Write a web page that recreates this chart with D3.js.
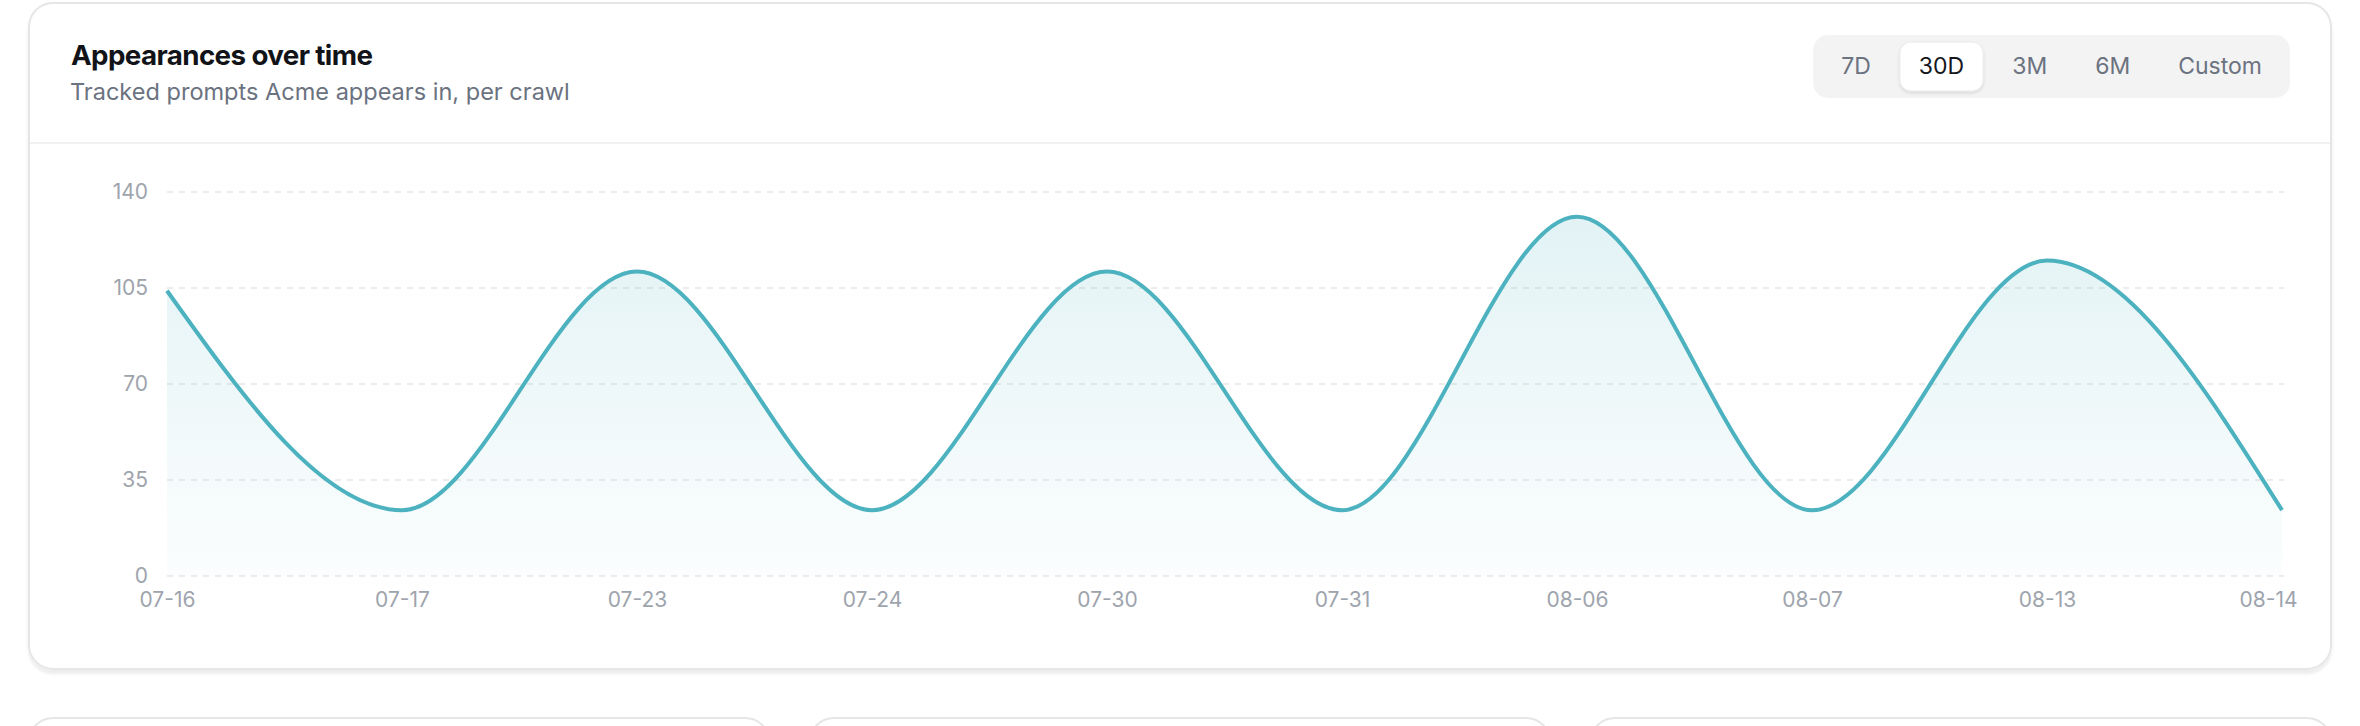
<!DOCTYPE html>
<html>
<head>
<meta charset="utf-8">
<script src="https://cdn.jsdelivr.net/npm/d3@7"></script>
<style>
  html, body { margin: 0; padding: 0; background: #fff; overflow: hidden; }
  svg { display: block; font-family: Inter, "Noto Sans", sans-serif; }
</style>
</head>
<body>
<svg id="chart" width="2360" height="726"></svg>
<script>
"use strict";
// crawl dates (x categories) and tracked prompt appearances
var dates = ["07-16", "07-17", "07-23", "07-24", "07-30", "07-31", "08-06", "08-07", "08-13", "08-14"];
var appearances = [104, 24, 111, 24, 111, 24, 131, 24, 115, 24];
var yTicks = [0, 35, 70, 105, 140];
var ranges = ["7D", "30D", "3M", "6M", "Custom"];
var activeRange = "30D";

var lineColor = "#4cb2bf";
var svg = d3.select("#chart");
var defs = svg.append("defs");

var cardShadow = defs.append("filter").attr("id", "cardShadow")
    .attr("x", "-2%").attr("y", "-2%").attr("width", "104%").attr("height", "106%");
cardShadow.append("feDropShadow").attr("dx", 0).attr("dy", 4).attr("stdDeviation", 1.5)
    .attr("flood-color", "#000").attr("flood-opacity", 0.07);

var btnShadow = defs.append("filter").attr("id", "btnShadow")
    .attr("x", "-20%").attr("y", "-20%").attr("width", "140%").attr("height", "150%");
btnShadow.append("feDropShadow").attr("dx", 0).attr("dy", 2).attr("stdDeviation", 1.5)
    .attr("flood-color", "#000").attr("flood-opacity", 0.1);

var grad = defs.append("linearGradient").attr("id", "areaFill")
    .attr("x1", 0).attr("y1", 0).attr("x2", 0).attr("y2", 1);
grad.append("stop").attr("offset", "0%").attr("stop-color", lineColor).attr("stop-opacity", 0.16);
grad.append("stop").attr("offset", "100%").attr("stop-color", lineColor).attr("stop-opacity", 0.02);

// lower row of cards (only their tops show)
var lower = d3.scaleBand().domain([0, 1, 2]).range([29, 2331]).paddingInner(0.052);
svg.selectAll("rect.lower").data([0, 1, 2]).enter().append("rect")
    .attr("class", "lower")
    .attr("x", function (d) { return lower(d); })
    .attr("y", 718)
    .attr("width", lower.bandwidth())
    .attr("height", 120)
    .attr("rx", 24)
    .attr("fill", "#fff")
    .attr("stroke", "#e6e6e6")
    .attr("stroke-width", 2);

// main card
svg.append("rect")
    .attr("x", 29).attr("y", 3).attr("width", 2302).attr("height", 666).attr("rx", 24)
    .attr("fill", "#fff").attr("stroke", "#e6e6e6").attr("stroke-width", 2)
    .attr("filter", "url(#cardShadow)");

svg.append("line")
    .attr("x1", 30).attr("x2", 2330).attr("y1", 143).attr("y2", 143)
    .attr("stroke", "#f1f1f1").attr("stroke-width", 2);

function fitWidth(sel, target) {
    var size = parseFloat(sel.attr("font-size"));
    var w = sel.node().getComputedTextLength();
    if (w > 0) sel.attr("font-size", (size * target / w).toFixed(2));
}

var title = svg.append("text")
    .attr("x", 71).attr("y", 65)
    .attr("font-size", 29).attr("font-weight", 700)
    .attr("letter-spacing", -0.6)
    .attr("fill", "#111318")
    .text("Appearances over time");
fitWidth(title, 302);

var subtitle = svg.append("text")
    .attr("x", 70).attr("y", 100)
    .attr("font-size", 24)
    .attr("fill", "#6b7280")
    .text("Tracked prompts Acme appears in, per crawl");
fitWidth(subtitle, 500);

// range selector
var group = svg.append("g");
var labels = group.selectAll("text").data(ranges).enter().append("text")
    .attr("font-size", 23)
    .attr("text-anchor", "middle")
    .attr("fill", function (d) { return d === activeRange ? "#15171c" : "#6b7280"; })
    .text(function (d) { return d; });
var widths = [];
labels.each(function () { widths.push(this.getComputedTextLength() + 38); });
var gap = 10, pad = 9;
var total = d3.sum(widths) + gap * (ranges.length - 1) + pad * 2;
var gx = 2290 - total, gy = 35, gh = 63;
group.insert("rect", "text")
    .attr("x", gx).attr("y", gy).attr("width", total).attr("height", gh).attr("rx", 15)
    .attr("fill", "#f3f3f3");
var cursor = gx + pad;
var starts = widths.map(function (w) { var s = cursor; cursor += w + gap; return s; });
ranges.forEach(function (d, i) {
    if (d === activeRange) {
        group.insert("rect", "text")
            .attr("x", starts[i]).attr("y", gy + 7).attr("width", widths[i]).attr("height", gh - 14)
            .attr("rx", 11).attr("fill", "#fff")
            .attr("stroke", "#e9e9e9").attr("stroke-width", 1)
            .attr("filter", "url(#btnShadow)");
    }
});
labels
    .attr("x", function (d, i) { return starts[i] + widths[i] / 2; })
    .attr("y", 74);

// chart
var x = d3.scalePoint().domain(dates).range([167, 2282]);
var y = d3.scaleLinear().domain([0, 140]).range([576, 192]);

var grid = svg.append("g");
grid.selectAll("line").data(yTicks).enter().append("line")
    .attr("x1", 167).attr("x2", 2284)
    .attr("y1", function (d) { return y(d); })
    .attr("y2", function (d) { return y(d); })
    .attr("stroke", "#ececec")
    .attr("stroke-width", 2)
    .attr("stroke-dasharray", "6 6");

var yAxis = svg.append("g")
    .attr("transform", "translate(167,0)")
    .call(d3.axisLeft(y).tickValues(yTicks).tickSize(0).tickPadding(19));
yAxis.select(".domain").remove();
yAxis.selectAll("text")
    .attr("font-family", "Inter, sans-serif")
    .attr("font-size", 21)
    .attr("fill", "#9ea4ad");

var xAxis = svg.append("g")
    .attr("transform", "translate(0,576)")
    .call(d3.axisBottom(x).tickSize(0).tickPadding(16));
xAxis.select(".domain").remove();
xAxis.selectAll("text")
    .attr("font-family", "Inter, sans-serif")
    .attr("font-size", 21)
    .attr("fill", "#9ea4ad")
    .attr("text-anchor", function (d, i) { return i === dates.length - 1 ? "end" : "middle"; })
    .attr("dx", function (d, i) { return i === dates.length - 1 ? 15 : 0; });

var area = d3.area()
    .x(function (d, i) { return x(dates[i]); })
    .y0(y(0))
    .y1(function (d) { return y(d); })
    .curve(d3.curveMonotoneX);
var line = d3.line()
    .x(function (d, i) { return x(dates[i]); })
    .y(function (d) { return y(d); })
    .curve(d3.curveMonotoneX);

svg.append("path").datum(appearances)
    .attr("d", area)
    .attr("fill", "url(#areaFill)");
svg.append("path").datum(appearances)
    .attr("d", line)
    .attr("fill", "none")
    .attr("stroke", lineColor)
    .attr("stroke-width", 4)
    .attr("stroke-linejoin", "round");
</script>
</body>
</html>
